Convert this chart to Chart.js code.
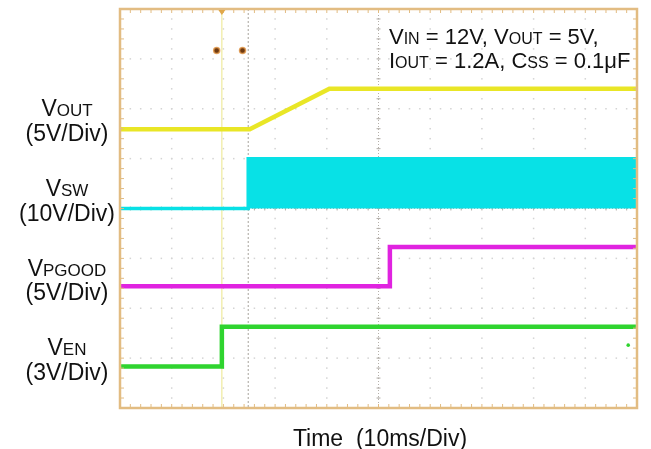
<!DOCTYPE html>
<html>
<head>
<meta charset="utf-8">
<script src="https://cdn.jsdelivr.net/npm/chart.js@4.4.0/dist/chart.umd.min.js"></script>
<style>
  html, body { margin: 0; padding: 0; background: #fff; }
  #wrap { width: 651px; height: 449px; position: relative; }
</style>
</head>
<body>
<div id="wrap"><canvas id="scope"></canvas></div>
<script>
// scope screen: 10 time divisions across, 8 divisions up
const xDivs = 10;
const yDivs = 8;

// traces, in divisions (x = time div from left, y = div from bottom)
const voutX = [0, 2.51, 4.05, 9.98];
const voutY = [5.59, 5.59, 6.40, 6.40];
const vswX = [0, 2.48, 2.48, 9.98, 9.98];
const vswY = [4.00, 4.00, 5.00, 5.00, 4.00];
const vpgoodX = [0, 5.22, 5.22, 9.98];
const vpgoodY = [2.44, 2.44, 3.23, 3.23];
const venX = [0, 1.97, 1.97, 9.98];
const venY = [0.83, 0.83, 1.63, 1.63];

// cursors and the little markers on screen
const cursorX = [1.97, 2.48];
const markerX = [1.87, 2.37];
const markerY = [7.17, 7.17];
const strayX = [9.83];
const strayY = [1.26];

// text
const channelNames = [['V', 'OUT'], ['V', 'SW'], ['V', 'PGOOD'], ['V', 'EN']];
const channelScales = ['(5V/Div)', '(10V/Div)', '(5V/Div)', '(3V/Div)'];
const timeLabel = 'Time  (10ms/Div)';

const FONT = '"Liberation Sans", Arial, sans-serif';
const TAN = '#e2bc82';

function pts(xs, ys) {
    return xs.map((x, i) => ({ x: x, y: ys[i] }));
}

// draw a run of [text, size] pieces on one baseline
function drawRuns(ctx, runs, x, y, align) {
    let total = 0;
    runs.forEach(r => {
        ctx.font = r[1] + 'px ' + FONT;
        r.w = ctx.measureText(r[0]).width;
        total += r.w;
    });
    let cx = x;
    if (align === 'right') cx = x - total;
    if (align === 'center') cx = x - total / 2;
    ctx.textAlign = 'left';
    ctx.textBaseline = 'alphabetic';
    runs.forEach(r => {
        ctx.font = r[1] + 'px ' + FONT;
        ctx.fillText(r[0], cx, y);
        cx += r.w;
    });
}

// graticule, border ticks and cursors
const scopeScreen = {
    id: 'scopeScreen',
    beforeDatasetsDraw(chart) {
        const { ctx, chartArea: a, scales: { x, y } } = chart;
        ctx.save();

        // dotted grid
        ctx.fillStyle = '#d4d4d4';
        for (let i = 1; i < xDivs; i++) {
            const px = x.getPixelForValue(i);
            for (let j = 1; j < yDivs * 5; j++) {
                ctx.fillRect(px - 0.75, y.getPixelForValue(j / 5) - 0.75, 1.5, 1.5);
            }
        }
        for (let j = 1; j < yDivs; j++) {
            const py = y.getPixelForValue(j);
            for (let i = 1; i < xDivs * 5; i++) {
                ctx.fillRect(x.getPixelForValue(i / 5) - 0.75, py - 0.75, 1.5, 1.5);
            }
        }

        // centre lines, a bit darker, with small ticks
        const cx = x.getPixelForValue(xDivs / 2);
        const cy = y.getPixelForValue(yDivs / 2);
        ctx.strokeStyle = '#b5b0aa';
        ctx.lineWidth = 1;
        ctx.setLineDash([1, 2]);
        ctx.beginPath();
        ctx.moveTo(cx, a.top); ctx.lineTo(cx, a.bottom);
        ctx.moveTo(a.left, cy); ctx.lineTo(a.right, cy);
        ctx.stroke();
        ctx.setLineDash([]);
        ctx.beginPath();
        for (let j = 1; j < yDivs * 5; j++) {
            const py = y.getPixelForValue(j / 5);
            ctx.moveTo(cx - 2, py); ctx.lineTo(cx + 2, py);
        }
        for (let i = 1; i < xDivs * 5; i++) {
            const px = x.getPixelForValue(i / 5);
            ctx.moveTo(px, cy - 2); ctx.lineTo(px, cy + 2);
        }
        ctx.stroke();

        // cursors
        ctx.strokeStyle = '#f1eca4';
        ctx.lineWidth = 1.3;
        ctx.beginPath();
        ctx.moveTo(x.getPixelForValue(cursorX[0]), a.top);
        ctx.lineTo(x.getPixelForValue(cursorX[0]), a.bottom);
        ctx.stroke();
        ctx.strokeStyle = '#a8a49c';
        ctx.lineWidth = 1;
        ctx.setLineDash([2, 2]);
        ctx.beginPath();
        ctx.moveTo(x.getPixelForValue(cursorX[1]), a.top);
        ctx.lineTo(x.getPixelForValue(cursorX[1]), a.bottom);
        ctx.stroke();
        ctx.setLineDash([]);
        ctx.restore();
    },
    afterDatasetsDraw(chart) {
        const { ctx, chartArea: a, scales: { x, y } } = chart;
        ctx.save();
        // minor ticks on the frame
        ctx.strokeStyle = TAN;
        ctx.lineWidth = 1;
        ctx.beginPath();
        for (let i = 1; i < xDivs * 5; i++) {
            const px = x.getPixelForValue(i / 5);
            ctx.moveTo(px, a.top); ctx.lineTo(px, a.top + 4);
            ctx.moveTo(px, a.bottom); ctx.lineTo(px, a.bottom - 4);
        }
        for (let j = 1; j < yDivs * 5; j++) {
            const py = y.getPixelForValue(j / 5);
            ctx.moveTo(a.left, py); ctx.lineTo(a.left + 4, py);
            ctx.moveTo(a.right, py); ctx.lineTo(a.right - 4, py);
        }
        ctx.stroke();
        // frame
        ctx.lineWidth = 2.5;
        ctx.strokeRect(a.left, a.top, a.right - a.left, a.bottom - a.top);
        // trigger mark at top of the first cursor
        const tx = x.getPixelForValue(cursorX[0]);
        ctx.fillStyle = '#e0a84a';
        ctx.beginPath();
        ctx.moveTo(tx - 3.5, a.top + 1);
        ctx.lineTo(tx + 3.5, a.top + 1);
        ctx.lineTo(tx, a.top + 6);
        ctx.closePath();
        ctx.fill();
        ctx.restore();
    },
    afterDraw(chart) {
        const ctx = chart.ctx;
        ctx.save();
        ctx.fillStyle = '#111';
        const nameBase = [116, 196, 276, 355];
        const scaleBase = [141, 221, 300, 380];
        channelNames.forEach((n, i) => {
            drawRuns(ctx, [[n[0], 23], [n[1], 17]], 67, nameBase[i], 'center');
            drawRuns(ctx, [[channelScales[i], 23]], 67, scaleBase[i], 'center');
        });
        drawRuns(ctx, [['V', 22], ['IN', 16], [' = 12V, ', 22], ['V', 22], ['OUT', 16], [' = 5V,', 22]], 389, 44, 'left');
        drawRuns(ctx, [['I', 22], ['OUT', 16], [' = 1.2A, ', 22], ['C', 22], ['SS', 16], [' = 0.1\u03bcF', 22]], 389, 68, 'left');
        drawRuns(ctx, [[timeLabel, 23]], 380, 446, 'center');
        ctx.restore();
    }
};

const trace = (data, color, width) => ({
    data: data,
    borderColor: color,
    backgroundColor: color,
    borderWidth: width,
    pointRadius: 0,
    tension: 0,
    fill: false
});

new Chart(document.getElementById('scope'), {
    type: 'line',
    data: {
        datasets: [
            trace(pts(venX, venY), '#2fd42f', 4.5),
            trace(pts(vpgoodX, vpgoodY), '#e023e0', 4.5),
            Object.assign(trace(pts(vswX, vswY), '#08e1e6', 3.5), { fill: { value: 4 } }),
            trace(pts(voutX, voutY), '#e9e626', 4.5),
            {
                data: pts(markerX, markerY),
                showLine: false,
                pointRadius: 3,
                pointBackgroundColor: '#6e3a12',
                pointBorderColor: 'rgba(226,150,70,0.8)',
                pointBorderWidth: 1.5
            },
            {
                data: pts(strayX, strayY),
                showLine: false,
                pointRadius: 1.8,
                pointBackgroundColor: '#2fd42f',
                pointBorderWidth: 0
            }
        ]
    },
    options: {
        responsive: true,
        maintainAspectRatio: false,
        animation: false,
        layout: { padding: { left: 120, top: 9, right: 14, bottom: 41 } },
        scales: {
            x: { type: 'linear', min: 0, max: xDivs, display: false },
            y: { type: 'linear', min: 0, max: yDivs, display: false }
        },
        plugins: {
            legend: { display: false },
            tooltip: { enabled: false }
        },
        elements: { line: { borderCapStyle: 'butt', borderJoinStyle: 'miter' } }
    },
    plugins: [scopeScreen]
});
</script>
</body>
</html>
